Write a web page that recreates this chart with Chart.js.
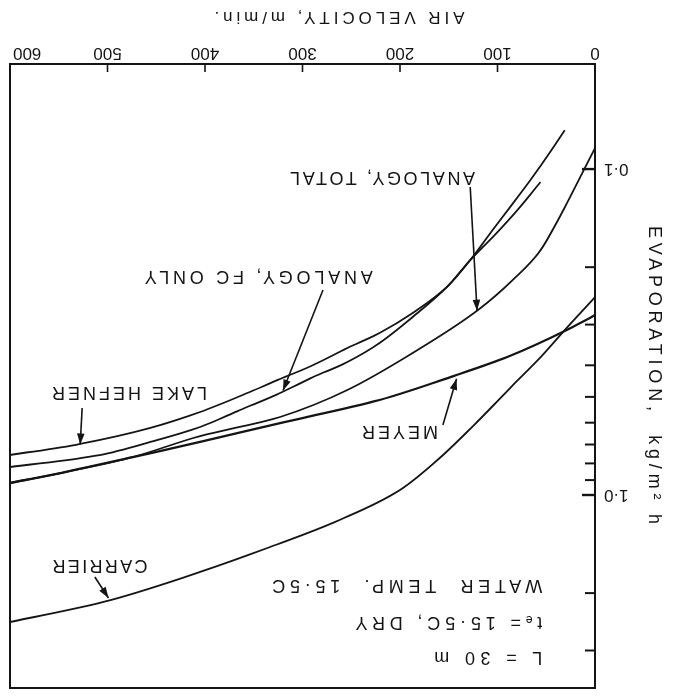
<!DOCTYPE html>
<html><head><meta charset="utf-8">
<script src="https://cdn.jsdelivr.net/npm/chart.js@4.4.1/dist/chart.umd.min.js"></script>
<style>
html,body{margin:0;padding:0;background:#fff;overflow:hidden}
#wrap{width:686px;height:697px;transform:rotate(180deg);transform-origin:50% 50%}
canvas{display:block}
</style></head><body>
<div id="wrap"><canvas id="c" width="686" height="697"></canvas></div>
<script>
// ---- data (air velocity m/min, evaporation kg/m2 h) ----
const lakeHefnerV = [31,46,64,84,105,128,152,187,221,254,289,323,354,405,456,528,600];
const lakeHefnerE = [0.0760,0.0887,0.1058,0.1272,0.1538,0.1902,0.2301,0.2765,0.3185,0.3540,0.3993,0.4407,0.4831,0.5564,0.6228,0.6974,0.754];
const fcOnlyV = [56,77,101,128,152,187,221,254,289,323,364,405,456,508,600];
const fcOnlyE = [0.1096,0.1308,0.1571,0.1902,0.2301,0.2844,0.3418,0.3908,0.4346,0.4866,0.5485,0.6185,0.6876,0.754,0.8206];
const totalV = [0,26,39,56,84,120,187,254,323,405,474,538,600];
const totalE = [0.0862,0.1225,0.1453,0.1776,0.2184,0.2707,0.3667,0.4763,0.5764,0.6592,0.7646,0.8440,0.9188];
const meyerV = [0,29,90,142,221,323,405,474,538,600];
const meyerE = [0.2805,0.3118,0.3772,0.4284,0.5111,0.6014,0.6876,0.7646,0.8440,0.9188];
const carrierV = [0,29,56,84,121,159,200,262,336,405,497,600];
const carrierE = [0.2470,0.3070,0.3784,0.4597,0.5971,0.7686,0.9650,1.193,1.454,1.722,2.100,2.453];

const xTickValues = [0,100,200,300,400,500,600];
const yLabelValues = [0.1,1];
const yLabelTexts = ['0·1','1·0'];
const yMinorTicks = [0.2,0.3,0.4,0.5,0.6,0.7,0.8,0.9,2,3];
const xTitle = 'AIR VELOCITY, m/min.';
const yTitle = 'EVAPORATION,  kg/m² h';

// curve labels: text, anchor (v,E), arrow tail (v,E), arrow tip (v,E)
const curveLabels = [
  {text:'ANALOGY, TOTAL',   v:123, e:0.1058, w:185, tail:[128,0.1135], tip:[121,0.272]},
  {text:'ANALOGY, FC ONLY', v:228, e:0.2129, w:228, tail:[279,0.2349], tip:[320,0.478]},
  {text:'LAKE HEFNER',      v:398, e:0.4831, w:155, tail:[526,0.5409], tip:[528,0.70]},
  {text:'MEYER',            v:161, e:0.6362, w:76,  tail:[156,0.6100], tip:[142,0.44]},
  {text:'CARRIER',          v:459, e:1.639,  w:95,  tail:[513,1.785],  tip:[499,2.07]}
];
const infoLines = [
  {text:'L = 30 m',            v:54, e:3.14,  w:108},
  {text:'tₑ= 15·5C, DRY',      v:54, e:2.453, w:187},
  {text:'WATER  TEMP.  15·5C', v:54, e:1.888, w:270}
];

const FONT = '"Liberation Sans", "DejaVu Sans", sans-serif';
const INK = '#141414';

function pts(vs, es){ return vs.map((v,i)=>({x:v,y:es[i]})); }
function ds(label, vs, es, w){
  return {label, data:pts(vs,es), borderColor:INK, borderWidth:w, pointRadius:0,
          fill:false, cubicInterpolationMode:'monotone'};
}

function spaced(ctx, text, x, y, width, font){
  ctx.font = font;
  ctx.letterSpacing = '0px';
  const w = ctx.measureText(text).width;
  const n = [...text].length;
  const ls = n>1 ? Math.max(0,(width-w)/(n-1)) : 0;
  ctx.letterSpacing = ls.toFixed(2)+'px';
  ctx.fillText(text, x, y);
  ctx.letterSpacing = '0px';
}

function arrow(ctx, x1,y1,x2,y2){
  ctx.lineWidth = 1.6;
  ctx.beginPath(); ctx.moveTo(x1,y1); ctx.lineTo(x2,y2); ctx.stroke();
  const ang = Math.atan2(y2-y1, x2-x1), L=11, H=3.8;
  ctx.beginPath();
  ctx.moveTo(x2,y2);
  ctx.lineTo(x2 - L*Math.cos(ang) + H*Math.sin(ang), y2 - L*Math.sin(ang) - H*Math.cos(ang));
  ctx.lineTo(x2 - L*Math.cos(ang) - H*Math.sin(ang), y2 - L*Math.sin(ang) + H*Math.cos(ang));
  ctx.closePath(); ctx.fill();
}

const decor = {
  id:'decor',
  afterDatasetsDraw(chart){
    const ctx = chart.ctx, xs = chart.scales.x, ys = chart.scales.y, a = chart.chartArea;
    ctx.save();
    ctx.strokeStyle = INK; ctx.fillStyle = INK; ctx.lineCap='butt';
    // frame
    ctx.lineWidth = 2;
    ctx.strokeRect(a.left, a.top, a.right-a.left, a.bottom-a.top);
    // x ticks (inward)
    ctx.lineWidth = 1.6;
    xTickValues.forEach(v=>{
      if (v===0) return;
      const px = xs.getPixelForValue(v);
      ctx.beginPath(); ctx.moveTo(px, a.bottom); ctx.lineTo(px, a.bottom-8); ctx.stroke();
    });
    // y ticks (inward)
    ctx.lineWidth = 2.4;
    yLabelValues.forEach(v=>{
      const py = ys.getPixelForValue(v);
      ctx.beginPath(); ctx.moveTo(a.left-1, py); ctx.lineTo(a.left+13, py); ctx.stroke();
    });
    ctx.lineWidth = 2;
    yMinorTicks.forEach(v=>{
      const py = ys.getPixelForValue(v);
      ctx.beginPath(); ctx.moveTo(a.left, py); ctx.lineTo(a.left+10, py); ctx.stroke();
    });
    // x tick labels
    ctx.font = '17px '+FONT; ctx.textBaseline='middle';
    xTickValues.forEach(v=>{
      let px = xs.getPixelForValue(v);
      ctx.textAlign = 'center';
      if (v===600) { ctx.textAlign='right'; px = a.right - 3; }
      ctx.fillText(String(v), px, a.bottom+11);
    });
    // y tick labels
    ctx.textAlign='right';
    yLabelValues.forEach((v,i)=>{
      ctx.fillText(yLabelTexts[i], a.left-9, ys.getPixelForValue(v));
    });
    // x title
    ctx.textAlign='left';
    spaced(ctx, xTitle, (a.left+a.right)/2 - 37 - 125, a.bottom+47, 250, '17px '+FONT);
    // y title
    ctx.save();
    ctx.translate(a.left-59, (a.top+a.bottom)/2);
    ctx.rotate(-Math.PI/2);
    spaced(ctx, yTitle, -150, 0, 298, '18px '+FONT);
    ctx.restore();
    // curve labels and arrows
    curveLabels.forEach(c=>{
      spaced(ctx, c.text, xs.getPixelForValue(c.v), ys.getPixelForValue(c.e), c.w, '18px '+FONT);
      arrow(ctx, xs.getPixelForValue(c.tail[0]), ys.getPixelForValue(c.tail[1]),
                 xs.getPixelForValue(c.tip[0]), ys.getPixelForValue(c.tip[1]));
    });
    infoLines.forEach(l=>{
      spaced(ctx, l.text, xs.getPixelForValue(l.v), ys.getPixelForValue(l.e), l.w, '18px '+FONT);
    });
    ctx.restore();
  }
};

new Chart(document.getElementById('c'), {
  type:'line',
  data:{ datasets:[
    ds('Lake Hefner', lakeHefnerV, lakeHefnerE, 1.8),
    ds('Analogy, FC only', fcOnlyV, fcOnlyE, 1.8),
    ds('Analogy, total', totalV, totalE, 1.8),
    ds('Meyer', meyerV, meyerE, 2.3),
    ds('Carrier', carrierV, carrierE, 1.8)
  ]},
  options:{
    responsive:false, animation:false, devicePixelRatio:1,
    layout:{padding:{left:91, right:10, top:9, bottom:64}},
    plugins:{legend:{display:false}, tooltip:{enabled:false}},
    scales:{
      x:{type:'linear', min:0, max:600, display:false},
      y:{type:'logarithmic', min:0.0476, max:3.91, display:false}
    }
  },
  plugins:[decor]
});
</script>
</body></html>
